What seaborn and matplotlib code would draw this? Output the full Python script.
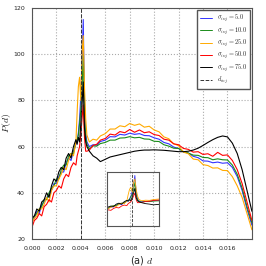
import numpy as np
import pandas as pd
import matplotlib.pyplot as plt
import seaborn as sns

# distance values (shared by every curve)
d = [0.0000, 0.0002, 0.0004, 0.0006, 0.0008, 0.0010, 0.0012, 0.0014, 0.0016, 0.0018,
     0.0020, 0.0022, 0.0024, 0.0026, 0.0028, 0.0030, 0.0032, 0.0034, 0.0036, 0.0037,
     0.0038, 0.0039, 0.0040, 0.0041, 0.0042, 0.0043, 0.0044, 0.0045, 0.0047, 0.0050,
     0.0053, 0.0056, 0.0060, 0.0064, 0.0068, 0.0072, 0.0076, 0.0080, 0.0084, 0.0088,
     0.0092, 0.0096, 0.0100, 0.0104, 0.0108, 0.0112, 0.0116, 0.0120, 0.0124, 0.0128,
     0.0132, 0.0136, 0.0140, 0.0144, 0.0148, 0.0152, 0.0156, 0.0160, 0.0164, 0.0168,
     0.0172, 0.0176, 0.0180]

p_sigma5 = [28, 29, 32, 31, 35, 36, 38, 39, 41, 44, 44, 47, 49, 49, 53, 55, 54, 58, 61, 62,
            66, 72, 82, 96, 115, 80, 66, 62, 60, 60.8, 60.6, 62.2, 62.8, 64.3, 64.2, 65.3, 65.0, 65.8, 65.3, 65.6,
            64.8, 64.7, 63.8, 63.2, 61.8, 61.2, 59.8, 59.2, 57.8, 57.2, 55.8, 55.2, 53.8, 53.7, 53.0, 53.3,
            52.8, 53.0, 51, 47, 41, 33, 26]
p_sigma10 = [28, 30, 31, 33, 34, 37, 37, 40, 42, 43, 46, 46, 50, 52, 52, 56, 57, 57, 62, 63,
             65, 70, 76, 85, 100, 74, 64, 61, 59, 60.3, 60.2, 61.3, 61.8, 62.8, 62.8, 63.7, 63.8, 64.3, 63.8, 64.0,
             63.3, 63.2, 62.3, 62.2, 60.8, 60.2, 59.3, 59.2, 57.8, 57.2, 56.3, 56.2, 55.3, 55.2, 54.3, 54.7,
             54.3, 54.2, 52, 48, 42, 34, 27]
p_sigma25 = [27, 29, 30, 33, 33, 35, 38, 36, 41, 43, 43, 46, 48, 51, 50, 54, 57, 56, 62, 75,
             86, 90, 80, 100, 108, 86, 72, 65, 62, 63.2, 62.8, 64.6, 65.6, 67.6, 67.6, 69.0, 68.6, 70.0, 69.2, 69.8,
             68.4, 68.8, 67.2, 66.4, 64.2, 63.4, 61.2, 60.4, 57.6, 56.9, 54.6, 54.3, 52.2, 51.8, 50.7, 50.8,
             49.7, 49.6, 47, 43, 38, 31, 24]
p_sigma50 = [25, 28, 29, 31, 30, 34, 35, 37, 36, 40, 41, 43, 42, 46, 48, 47, 51, 53, 52, 56,
             58, 60, 65, 72, 78, 64, 58, 58, 58.5, 60.5, 61, 62.8, 63.5, 65.4, 65, 66.5, 66, 67.4, 66.2, 67.2,
             66, 66.4, 65.2, 64.8, 63.2, 62.8, 61.2, 60.8, 59.2, 58.8, 57.6, 57.8, 56.6, 56.9, 55.8, 57.5,
             56.2, 56.4, 54, 50, 44, 36, 28]
p_sigma75 = [29, 30, 33, 32, 36, 37, 40, 38, 43, 46, 45, 49, 51, 50, 55, 57, 55, 60, 63, 61,
             64, 62, 70, 78, 88, 68, 62, 60, 58, 56, 55, 53.5, 54.5, 55.5, 56, 56.5, 57, 57.5, 58, 58.3,
             58.5, 58.5, 58.6, 58.5, 58.4, 58.2, 58, 57.8, 57.8, 58, 58.5, 59.3, 60.5, 61.8, 63, 64,
             64.6, 64.2, 61.5, 57, 50, 41, 32]

labels = [r'$\sigma_{inj}=5.0$', r'$\sigma_{inj}=10.0$', r'$\sigma_{inj}=25.0$',
          r'$\sigma_{inj}=50.0$', r'$\sigma_{inj}=75.0$']
colors = ['#3333ff', '#1a8c1a', '#ffaa00', '#ff0000', '#000000']
d_inj = 0.004

df = pd.concat([
    pd.DataFrame({'d': d, 'P': vals, 'sigma': lab})
    for vals, lab in zip([p_sigma5, p_sigma10, p_sigma25, p_sigma50, p_sigma75], labels)
])

sns.set_style('whitegrid', {'grid.linestyle': ':', 'grid.color': '#aaaaaa',
                            'axes.edgecolor': '#555555'})
plt.rcParams['font.family'] = ['DejaVu Sans']
plt.rcParams['mathtext.fontset'] = 'cm'

fig = plt.figure(figsize=(2.66, 2.66), dpi=100)
ax = fig.add_axes([0.120, 0.1015, 0.827, 0.8685])

sns.lineplot(data=df, x='d', y='P', hue='sigma', hue_order=labels, palette=colors,
             estimator=None, linewidth=0.8, ax=ax)
leg = ax.get_legend()
handles = list(leg.legend_handles)
texts = [t.get_text() for t in leg.get_texts()]
leg.remove()

vl = ax.axvline(d_inj, color='#333333', linestyle='--', linewidth=0.7)
handles.append(vl)
texts.append(r'$d_{inj}$')
for h in handles:
    h.set_linewidth(0.7)

ax.legend(handles, texts, loc='upper right', fontsize=4.6, frameon=True, fancybox=False,
          edgecolor='#555555', framealpha=1, handlelength=1.8, borderpad=0.45,
          labelspacing=0.15, borderaxespad=0.3)

ax.set_xlim(0, 0.018)
ax.set_ylim(20, 120)
ax.set_xticks([0.000, 0.002, 0.004, 0.006, 0.008, 0.010, 0.012, 0.014, 0.016])
ax.set_xticklabels([f'{t:.3f}' for t in ax.get_xticks()])
ax.set_yticks([20, 40, 60, 80, 100, 120])
ax.tick_params(labelsize=4.5, pad=1.5)
ax.set_xlabel(r'(a) $d$', fontsize=7, labelpad=2)
ax.set_ylabel(r'$P(d)$', fontsize=7)
ax.yaxis.set_label_coords(-0.085, 0.5)
for s in ax.spines.values():
    s.set_linewidth(0.8)

# inset: zoom on the injection peak
ax_in = fig.add_axes([0.402, 0.150, 0.195, 0.203])
sns.lineplot(data=df, x='d', y='P', hue='sigma', hue_order=labels, palette=colors,
             estimator=None, linewidth=0.6, ax=ax_in, legend=False)
ax_in.axvline(d_inj, color='#333333', linestyle='--', linewidth=0.6)
ax_in.set_xlim(0.0021, 0.0060)
ax_in.set_ylim(9, 122)
ax_in.set_xticks([0.0038, 0.0056])
ax_in.set_yticks([])
ax_in.set_xticklabels([])
ax_in.tick_params(length=0)
ax_in.set_xlabel('')
ax_in.set_ylabel('')
ax_in.grid(axis='y', visible=False)
for s in ax_in.spines.values():
    s.set_linewidth(0.8)

fig.savefig('out.png', dpi=100)
